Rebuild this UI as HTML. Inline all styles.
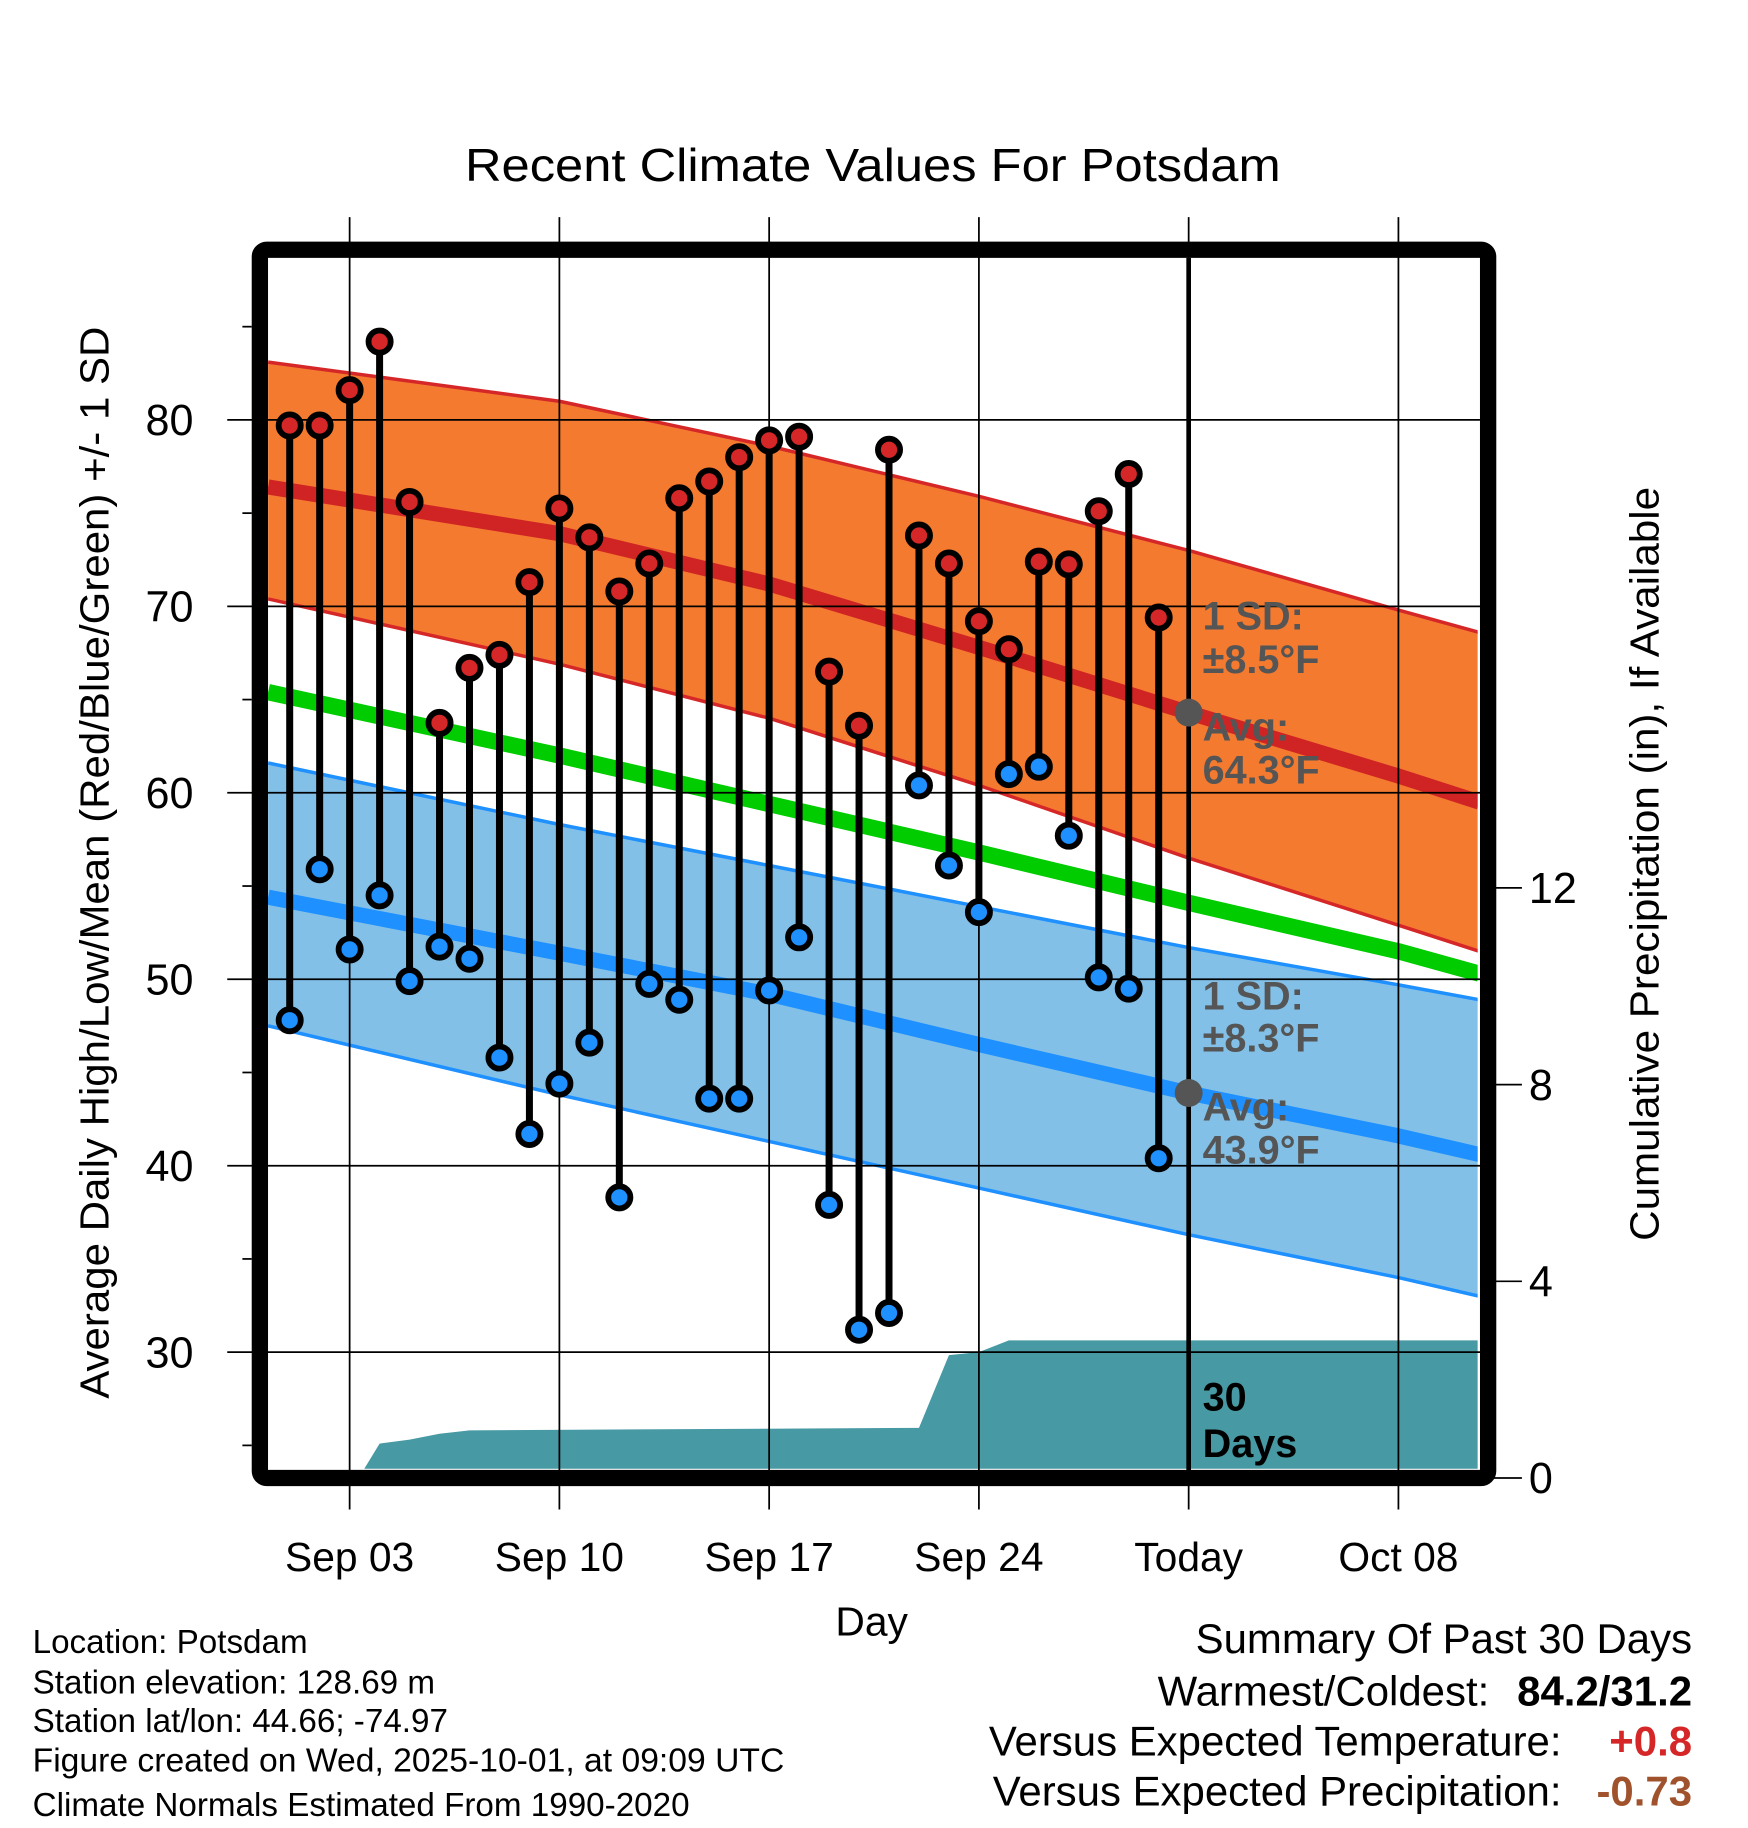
<!DOCTYPE html>
<html><head><meta charset="utf-8"><style>
html,body{margin:0;padding:0;background:#fff;}
svg{display:block;font-family:"Liberation Sans",Arial,sans-serif;}
</style></head><body>
<svg id="chart" width="1748" height="1828" viewBox="0 0 1500 1568" xmlns="http://www.w3.org/2000/svg">
<rect width="1500" height="1568" fill="#fff"/>
<text x="749" y="155" font-size="40" text-anchor="middle" textLength="700" lengthAdjust="spacingAndGlyphs">Recent Climate Values For Potsdam</text>
<defs><clipPath id="plotclip"><rect x="230" y="221" width="1038" height="1039"/></clipPath></defs>
<g id="bands" clip-path="url(#plotclip)"></g>
<g id="grid"></g>
<g id="marks"></g>
<rect x="223" y="214" width="1054" height="1054" rx="6" fill="none" stroke="#000" stroke-width="14"/>
<g id="axes"></g>
<text transform="translate(93,740) rotate(-90)" font-size="35" text-anchor="middle" textLength="920" lengthAdjust="spacingAndGlyphs">Average Daily High/Low/Mean (Red/Blue/Green) +/- 1 SD</text>
<text transform="translate(1423,741) rotate(-90)" font-size="35" text-anchor="middle" textLength="647" lengthAdjust="spacingAndGlyphs">Cumulative Precipitation (in), If Available</text>
<text x="748" y="1403" font-size="35" text-anchor="middle">Day</text>
<g font-size="28.5">
<text x="28" y="1418">Location: Potsdam</text>
<text x="28" y="1453">Station elevation: 128.69 m</text>
<text x="28" y="1486">Station lat/lon: 44.66; -74.97</text>
<text x="28" y="1520" textLength="645" lengthAdjust="spacingAndGlyphs">Figure created on Wed, 2025-10-01, at 09:09 UTC</text>
<text x="28" y="1558">Climate Normals Estimated From 1990-2020</text>
</g>
<g font-size="36" text-anchor="end">
<text x="1452" y="1418">Summary Of Past 30 Days</text>
<text x="1278" y="1463">Warmest/Coldest:</text>
<text x="1452" y="1463" font-weight="bold">84.2/31.2</text>
<text x="1340" y="1506">Versus Expected Temperature:</text>
<text x="1452" y="1506" font-weight="bold" fill="#D62728">+0.8</text>
<text x="1340" y="1549">Versus Expected Precipitation:</text>
<text x="1452" y="1549" font-weight="bold" fill="#A0522D">-0.73</text>
</g>
</svg>
<script>
const normDays=[-0.72,9,16,23,30,37,39.7];
const highUpper=[83.1,81.0,78.6,75.9,73.0,69.8,68.6];
const highAvg=[76.4,73.9,71.2,67.8,64.3,60.9,59.5];
const highLower=[70.4,66.9,64.0,60.4,56.5,52.9,51.5];
const meanAvg=[65.4,62.0,59.4,56.8,54.1,51.5,50.3];
const lowUpper=[61.6,58.3,56.1,53.9,51.7,49.7,48.9];
const lowAvg=[54.4,51.4,49.2,46.5,43.9,41.6,40.6];
const lowLower=[47.5,43.8,41.3,38.8,36.3,34.0,33.0];
const obsHigh=[79.7,79.7,81.6,84.2,75.6,63.75,66.7,67.4,71.3,75.25,73.7,70.8,72.3,75.8,76.7,78.0,78.9,79.1,66.5,63.6,78.4,73.8,72.3,69.2,67.7,72.4,72.25,75.1,77.1,69.4];
const obsLow=[47.8,55.9,51.6,54.5,49.9,51.75,51.1,45.8,41.7,44.4,46.6,38.3,49.75,48.9,43.6,43.6,49.4,52.25,37.9,31.2,32.1,60.4,56.1,53.6,61.0,61.4,57.7,50.1,49.5,40.4];
const precipDays=[2.3,3,4,5,6,21,22,23,24,39.7];
const precipVals=[0,0.7,0.78,0.9,0.97,1.02,2.5,2.56,2.8,2.8];
const xTickDays=[2,9,16,23,30,37];
const xTickLabels=["Sep 03","Sep 10","Sep 17","Sep 24","Today","Oct 08"];
const yTicks=[30,40,50,60,70,80];
const y2Ticks=[0,4,8,12];

const NS="http://www.w3.org/2000/svg";
const X=d=>248.6+25.714*d;
const Y=t=>360+(80-t)*16;
const P=p=>1268-42.2*p;
function mk(tag,attrs,parent){const e=document.createElementNS(NS,tag);for(const k in attrs)e.setAttribute(k,attrs[k]);parent.appendChild(e);return e;}
const bands=document.getElementById('bands'),grid=document.getElementById('grid'),marks=document.getElementById('marks'),axes=document.getElementById('axes');
function linePts(arr){return normDays.map((d,i)=>X(d)+','+Y(arr[i])).join(' ');}
function bandPts(up,lo){return linePts(up)+' '+normDays.map((d,i)=>X(d)+','+Y(lo[i])).reverse().join(' ');}
let pp=precipDays.map((d,i)=>X(d)+','+P(precipVals[i])).join(' ');
pp+=' '+X(precipDays[precipDays.length-1])+','+P(0)+' '+X(precipDays[0])+','+P(0);
let e=mk('polygon',{points:pp,fill:'#4799A3'},bands);


e=mk('polygon',{points:bandPts(highUpper,highLower),fill:'#F47A2F'},bands);


[highUpper,highLower].forEach(a=>{const l=mk('polyline',{points:linePts(a),fill:'none',stroke:'#D62728','stroke-width':3,'stroke-linejoin':'round'},bands);

});
e=mk('polygon',{points:bandPts(lowUpper,lowLower),fill:'#82C0E8'},bands);


[lowUpper,lowLower].forEach(a=>{const l=mk('polyline',{points:linePts(a),fill:'none',stroke:'#1E90FF','stroke-width':3,'stroke-linejoin':'round'},bands);

});
e=mk('polyline',{points:linePts(highAvg),fill:'none',stroke:'#D02424','stroke-width':13,'stroke-linejoin':'round'},bands);


e=mk('polyline',{points:linePts(meanAvg),fill:'none',stroke:'#00CC00','stroke-width':14,'stroke-linejoin':'round'},bands);


e=mk('polyline',{points:linePts(lowAvg),fill:'none',stroke:'#1E90FF','stroke-width':13,'stroke-linejoin':'round'},bands);


yTicks.forEach(t=>{const l=mk('line',{x1:195,x2:1270,y1:Y(t),y2:Y(t),stroke:'#000','stroke-width':1.5},grid);


const tx=mk('text',{x:166,y:Y(t)+13,'font-size':37,'text-anchor':'end'},axes);tx.textContent=t;


const m=mk('line',{x1:208,x2:216,y1:Y(t+5),y2:Y(t+5),stroke:'#000','stroke-width':1.5},axes);

});
{const m=mk('line',{x1:208,x2:216,y1:Y(25),y2:Y(25),stroke:'#000','stroke-width':1.5},axes);

}
xTickDays.forEach((d,i)=>{const l=mk('line',{x1:X(d),x2:X(d),y1:186,y2:1295,stroke:'#000','stroke-width':1.5},grid);


const tx=mk('text',{x:X(d),y:1348,'font-size':35,'text-anchor':'middle'},axes);tx.textContent=xTickLabels[i];

});
y2Ticks.forEach(p=>{const l=mk('line',{x1:1280,x2:1306,y1:P(p),y2:P(p),stroke:'#000','stroke-width':1.5},axes);


const tx=mk('text',{x:1312,y:P(p)+13,'font-size':37},axes);tx.textContent=p;

});
e=mk('line',{x1:X(30),x2:X(30),y1:221,y2:1262,stroke:'#000','stroke-width':4},marks);


obsHigh.forEach((h,i)=>{const x=X(i);
const s=mk('line',{x1:x,x2:x,y1:Y(h),y2:Y(obsLow[i]),stroke:'#000','stroke-width':6},marks);


const c1=mk('circle',{cx:x,cy:Y(h),r:9.5,fill:'#D62728',stroke:'#000','stroke-width':5},marks);


const c2=mk('circle',{cx:x,cy:Y(obsLow[i]),r:9.5,fill:'#1E90FF',stroke:'#000','stroke-width':5},marks);

});
[[highAvg,'today-high-avg-dot'],[lowAvg,'today-low-avg-dot']].forEach(([a,n])=>{const c=mk('circle',{cx:X(30),cy:Y(a[4]),r:12,fill:'#555'},marks);

});
const ann=[["1 SD:",540,'#555'],["±8.5°F",577,'#555'],["Avg:",635,'#555'],["64.3°F",672,'#555'],["1 SD:",866,'#555'],["±8.3°F",902,'#555'],["Avg:",961,'#555'],["43.9°F",998,'#555'],["30",1210,'#000'],["Days",1250,'#000']];
ann.forEach(([t,y,c])=>{const tx=mk('text',{x:1032,y:y,'font-size':34,'font-weight':'bold',fill:c},marks);tx.textContent=t;

});
</script>
</body></html>
